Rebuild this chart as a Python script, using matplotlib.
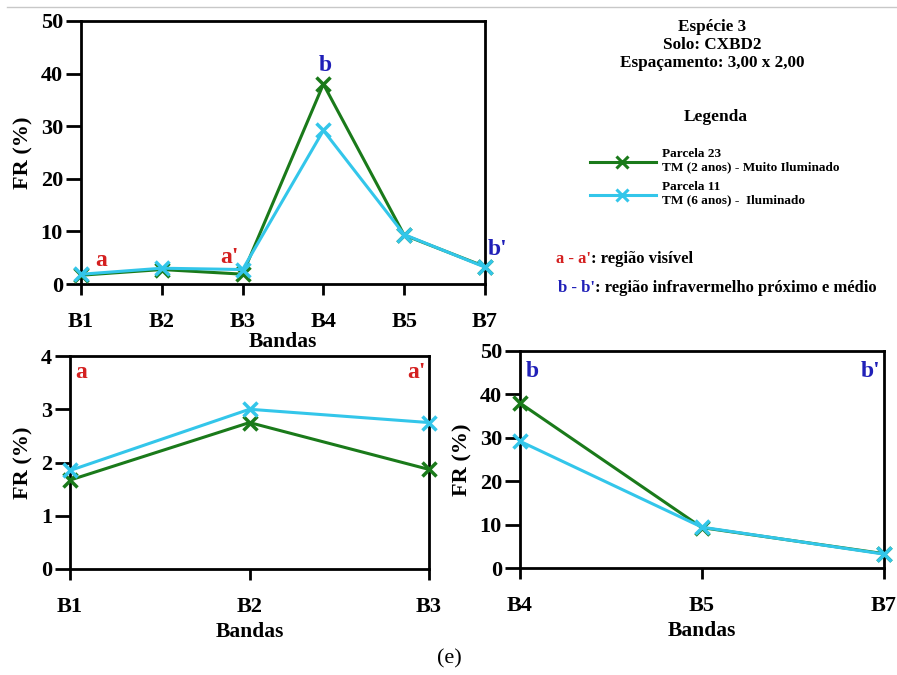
import matplotlib.pyplot as plt
from matplotlib.lines import Line2D

# dados
bandas = ['B1', 'B2', 'B3', 'B4', 'B5', 'B7']
parcela23 = [1.67, 2.75, 1.87, 38.0, 9.3, 3.3]
parcela11 = [1.85, 3.00, 2.75, 29.2, 9.4, 3.2]
nome23 = 'Parcela 23\nTM (2 anos) - Muito Iluminado'
nome11 = 'Parcela 11\nTM (6 anos) -  Iluminado'

verde = '#1a7a1a'
ciano = '#33c6ea'
vermelho = '#d42020'
azul = '#2020b8'

plt.rcParams['font.family'] = ['Liberation Serif', 'DejaVu Serif']
plt.rcParams['font.weight'] = 'bold'

W, H = 897, 675
fig = plt.figure(figsize=(W / 100, H / 100), dpi=100)


def eixo(x0, y0, x1, y1):
    # coordenadas em pixels (origem no topo)
    return fig.add_axes([x0 / W, (H - y1) / H, (x1 - x0) / W, (y1 - y0) / H])


def estilo(ax, ymax, passo, lpad):
    for s in ax.spines.values():
        s.set_linewidth(2.0)
    ax.set_ylim(0, ymax)
    ax.set_yticks(range(0, ymax + 1, passo))
    ax.tick_params(axis='y', direction='out', length=11, width=2, labelsize=16, pad=2)
    ax.tick_params(axis='x', direction='out', length=8, width=2, labelsize=16, pad=12)
    for lb in ax.get_xticklabels() + ax.get_yticklabels():
        lb.set_fontweight('bold')
    ax.set_xlabel('Bandas', fontsize=15.5, fontweight='bold', labelpad=lpad)
    ax.set_ylabel('FR (%)', fontsize=16, fontweight='bold', labelpad=5)


def linhas(ax, idx):
    x = list(range(len(idx)))
    ax.plot(x, [parcela23[i] for i in idx], color=verde, lw=2.2, marker='x',
            ms=10, mew=2.5, clip_on=False, zorder=3)
    ax.plot(x, [parcela11[i] for i in idx], color=ciano, lw=2.2, marker='x',
            ms=10, mew=2.5, clip_on=False, zorder=4)
    ax.set_xlim(0, len(idx) - 1)
    ax.set_xticks(x)
    ax.set_xticklabels([bandas[i] for i in idx])


# gráfico principal
ax1 = eixo(81, 21, 485, 284)
linhas(ax1, [0, 1, 2, 3, 4, 5])
estilo(ax1, 50, 10, 0)
ax1.text(0.18, 3.5, 'a', color=vermelho, fontsize=17, fontweight='bold')
ax1.text(1.72, 4.0, "a'", color=vermelho, fontsize=17, fontweight='bold')
ax1.text(3.02, 40.5, 'b', color=azul, fontsize=17, ha='center', fontweight='bold')
ax1.text(5.04, 5.5, "b'", color=azul, fontsize=17, fontweight='bold')

# região visível
ax2 = eixo(70, 356, 429, 569)
linhas(ax2, [0, 1, 2])
estilo(ax2, 4, 1, 3.5)
ax2.text(0.03, 3.58, 'a', color=vermelho, fontsize=17, fontweight='bold')
ax2.text(1.98, 3.58, "a'", color=vermelho, fontsize=17, ha='right', fontweight='bold')

# infravermelho
ax3 = eixo(520, 351, 884, 568)
linhas(ax3, [3, 4, 5])
estilo(ax3, 50, 10, 4)
ax3.text(0.03, 44.0, 'b', color=azul, fontsize=17, fontweight='bold')
ax3.text(1.98, 44.0, "b'", color=azul, fontsize=17, ha='right', fontweight='bold')

# textos à direita
fig.text(712 / W, 1 - 45 / H, 'Espécie 3\nSolo: CXBD2\nEspaçamento: 3,00 x 2,00',
         ha='center', va='center', fontsize=12.3, fontweight='bold', linespacing=1.2)
fig.text(716 / W, 1 - 117 / H, 'Legenda', ha='center', va='center', fontsize=12.5,
         fontweight='bold')

for yl, cor, nome in [(162, verde, nome23), (195, ciano, nome11)]:
    fig.add_artist(Line2D([590 / W, 656 / W], [1 - yl / H, 1 - yl / H], color=cor,
                          lw=2.2, transform=fig.transFigure))
    fig.add_artist(Line2D([622 / W], [1 - yl / H], color=cor, marker='x', ms=8,
                          mew=2.2, transform=fig.transFigure))
    fig.text(662 / W, 1 - (yl - 1) / H, nome, ha='left', va='center', fontsize=9.5,
             fontweight='bold', linespacing=1.15)

# textos com duas cores
for xl, yl, rot, cor, resto in [(556, 259, "a - a'", vermelho, ': região visível'),
                                (558, 288, "b - b'", azul,
                                 ': região infravermelho próximo e médio')]:
    t = fig.text(xl / W, 1 - yl / H, rot, color=cor, ha='left', va='center',
                 fontsize=12, fontweight='bold')
    fig.draw_without_rendering()
    bb = t.get_window_extent()
    fig.text(bb.x1 / W, 1 - yl / H, resto, ha='left', va='center', fontsize=12,
             fontweight='bold')

# linha cinza no topo e legenda da figura
fig.add_artist(Line2D([7 / W, 1], [1 - 7 / H, 1 - 7 / H], color='#c8c8c8', lw=1,
                      transform=fig.transFigure))
fig.text(449 / W, 1 - 659 / H, '(e)', ha='center', va='center', fontsize=16,
         fontweight='normal')

fig.savefig('out.png', dpi=100)
